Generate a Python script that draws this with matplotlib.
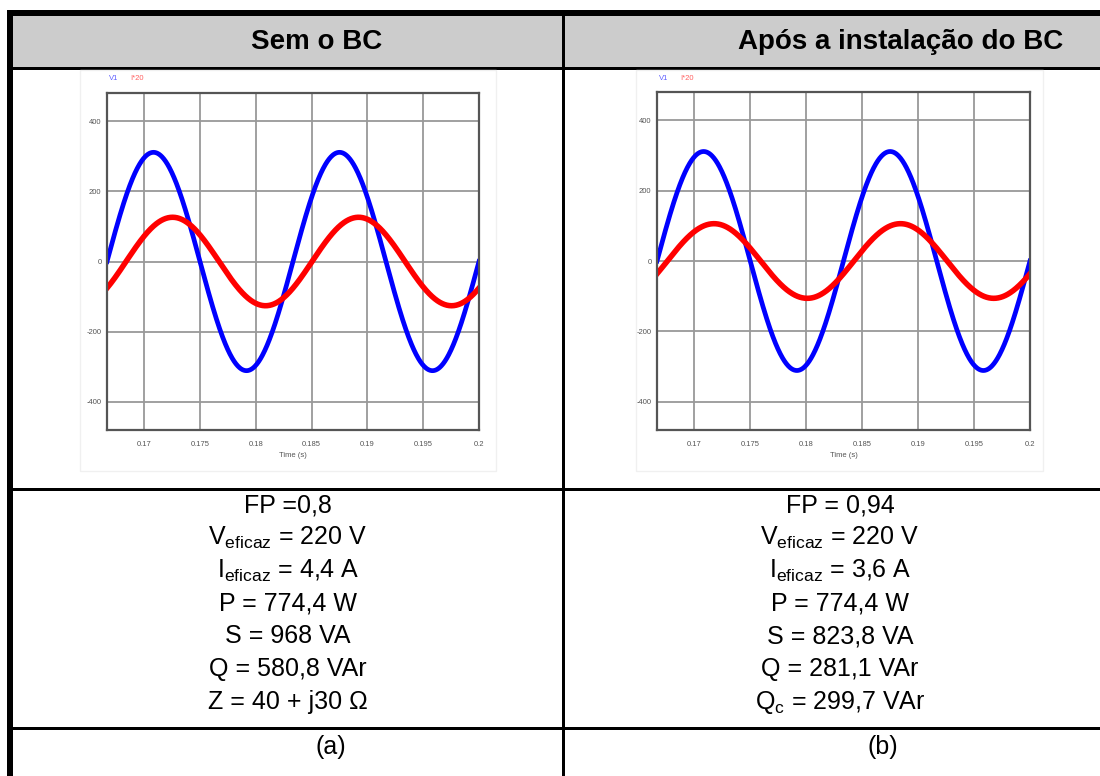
import numpy as np
import matplotlib.pyplot as plt
from matplotlib.patches import Rectangle

plt.rcParams['font.family'] = ['Liberation Sans', 'DejaVu Sans']
plt.rcParams['mathtext.fontset'] = 'custom'
plt.rcParams['mathtext.rm'] = 'Liberation Sans'
plt.rcParams['mathtext.it'] = 'Liberation Sans'

# Dados
freq = 60.0
t_ini, t_fim = 1 / 6, 0.2
v_pico = 311            # tensão V1 (pico)
i_pico = [126, 106]     # corrente x20 (pico): sem BC, com BC
i_fase = [-36.9, -20.0] # defasagem da corrente (graus)

x_ticks = [0.17, 0.175, 0.18, 0.185, 0.19, 0.195, 0.2]
x_labels = ['0.17', '0.175', '0.18', '0.185', '0.19', '0.195', '0.2']
y_ticks = [-400, -200, 0, 200, 400]
y_labels = ['-400', '-200', '0', '200', '400']

titulos = ['Sem o BC', 'Após a instalação do BC']
valores_a = ['FP =0,8', r'$\mathregular{V_{eficaz}}$ = 220 V', r'$\mathregular{I_{eficaz}}$ = 4,4 A',
             'P = 774,4 W', 'S = 968 VA', 'Q = 580,8 VAr', 'Z = 40 + j30 Ω']
valores_b = ['FP = 0,94', r'$\mathregular{V_{eficaz}}$ = 220 V', r'$\mathregular{I_{eficaz}}$ = 3,6 A',
             'P = 774,4 W', 'S = 823,8 VA', 'Q = 281,1 VAr', r'$\mathregular{Q_c}$ = 299,7 VAr']
rotulos = ['(a)', '(b)']

W, H = 1100, 776
fig = plt.figure(figsize=(11, 7.76), dpi=100)

# fundo da tabela em coordenadas de pixel
bg = fig.add_axes([0, 0, 1, 1])
bg.set_xlim(0, W)
bg.set_ylim(H, 0)
bg.axis('off')

def caixa(x0, y0, x1, y1, cor='black', borda=None):
    bg.add_patch(Rectangle((x0, y0), x1 - x0, y1 - y0, facecolor=cor,
                           edgecolor=borda if borda else 'none', lw=1))

caixa(13, 16, W, 67, '#cccccc')          # cabeçalho cinza
caixa(7, 10, W, 16)                      # borda superior
caixa(7, 10, 13, H)                      # borda esquerda
caixa(13, 67, W, 69.5)                   # linhas horizontais
caixa(13, 488, W, 490.5)
caixa(13, 727, W, 729.5)
caixa(562, 16, 564.5, H)                 # divisória

# caixas das imagens
caixa(80, 70, 496, 471, 'white', '#f0f0f0')
caixa(636, 70, 1043, 471, 'white', '#f0f0f0')

# títulos
bg.text(317, 42, titulos[0], ha='center', va='center', fontsize=20, fontweight='bold')
bg.text(901, 42, titulos[1], ha='center', va='center', fontsize=20, fontweight='bold')

# valores
baselines = [512 + 32.8 * k for k in range(len(valores_a))]
for txt_a, txt_b, yb in zip(valores_a, valores_b, baselines):
    bg.text(288, yb, txt_a, ha='center', va='baseline', fontsize=18)
    bg.text(840, yb, txt_b, ha='center', va='baseline', fontsize=18)
bg.text(331, 754, rotulos[0], ha='center', va='baseline', fontsize=18)
bg.text(883, 754, rotulos[1], ha='center', va='baseline', fontsize=18)

# gráficos
t = np.linspace(t_ini, t_fim, 800)
posicoes = [(107, 93, 479, 430), (657, 92, 1030, 430)]
for k, (x0, y0, x1, y1) in enumerate(posicoes):
    ax = fig.add_axes([x0 / W, 1 - y1 / H, (x1 - x0) / W, (y1 - y0) / H])
    v = v_pico * np.sin(2 * np.pi * freq * t)
    i = i_pico[k] * np.sin(2 * np.pi * freq * t + np.radians(i_fase[k]))
    ax.plot(t, v, color='#0000ff', lw=3.4, label='V1')
    ax.plot(t, i, color='#ff0000', lw=4.0, label='I*20')
    ax.set_xlim(t_ini, t_fim)
    ax.set_ylim(-480, 480)
    ax.set_xticks(x_ticks)
    ax.set_xticklabels(x_labels)
    ax.set_yticks(y_ticks)
    ax.set_yticklabels(y_labels)
    ax.tick_params(length=0, labelsize=5.5, colors='#555555')
    ax.tick_params(axis='x', pad=8)
    ax.tick_params(axis='y', pad=4)
    ax.grid(True, color='#999999', lw=1.3)
    ax.set_axisbelow(True)
    for s in ax.spines.values():
        s.set_color('#555555')
        s.set_linewidth(1.6)
    ax.set_xlabel('Time (s)', fontsize=5.5, color='#555555', labelpad=3)
    fig.text((x0 + 2) / W, 1 - 79 / H, 'V1', color='#6060ff', fontsize=5.5, va='center')
    fig.text((x0 + 23) / W, 1 - 79 / H, 'I*20', color='#ff6060', fontsize=5.5, va='center')

fig.savefig('out.png', dpi=100)
